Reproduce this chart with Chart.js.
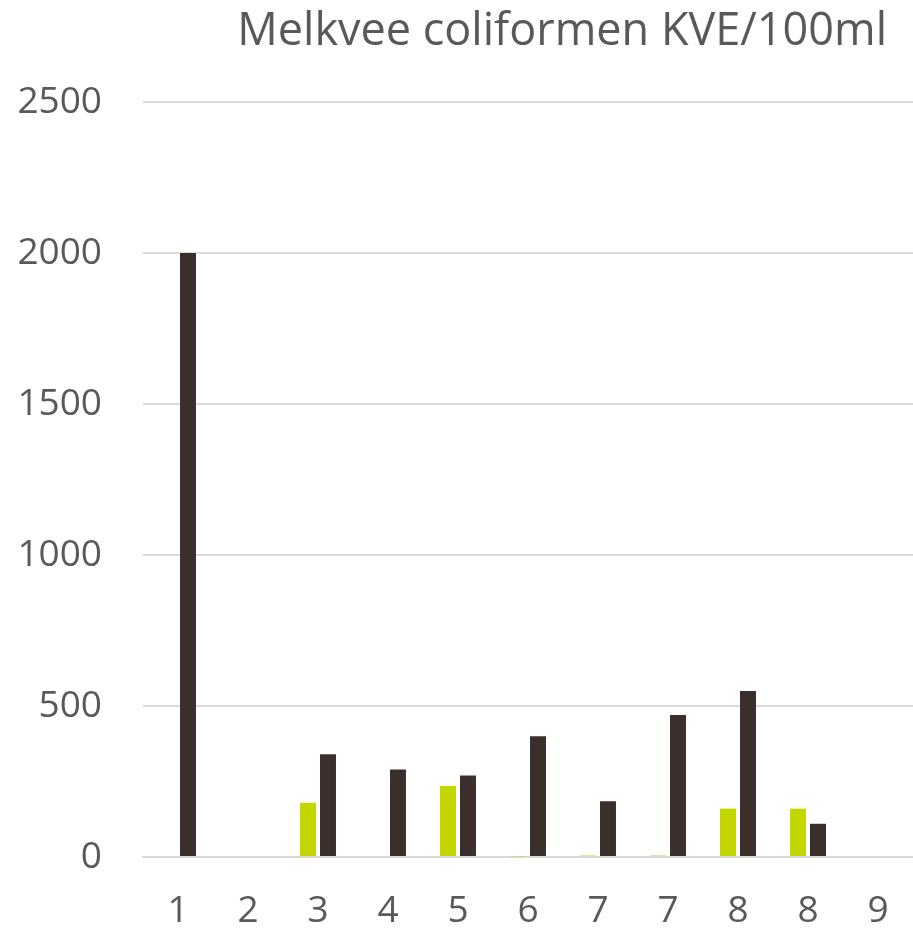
<!DOCTYPE html>
<html><head><meta charset="utf-8">
<script src="https://cdn.jsdelivr.net/npm/chart.js@4/dist/chart.umd.min.js"></script>
<style>html,body{margin:0;padding:0;background:#fff}#wrap{width:913px;height:929px}</style>
</head><body><div id="wrap"><canvas id="c" width="913" height="929"></canvas></div>
<script>
const chartTitle = "Melkvee coliformen KVE/100ml";
const categories = ["1","2","3","4","5","6","7","7","8","8","9"];
const greenValues = [0, 0, 180, 0, 235, 2, 5, 5, 160, 160, 0];
const darkValues = [2000, 0, 340, 290, 270, 400, 185, 470, 550, 110, 0];
const yTicks = [0, 500, 1000, 1500, 2000, 2500];

const FONT = "'Open Sans', sans-serif";
const titlePlugin = {
  id: 'customTitle',
  afterDraw(chart) {
    const ctx = chart.ctx;
    ctx.save();
    ctx.font = "45px " + FONT;
    ctx.fillStyle = "#595959";
    ctx.textAlign = "right";
    ctx.textBaseline = "middle";
    ctx.fillText(chartTitle, 887, 32);
    ctx.restore();
  }
};

new Chart(document.getElementById('c'), {
  type: 'bar',
  data: {
    labels: categories,
    datasets: [
      { data: greenValues, backgroundColor: '#c4d600', barPercentage: 0.8, categoryPercentage: 0.571 },
      { data: darkValues, backgroundColor: '#3a2f2b', barPercentage: 0.8, categoryPercentage: 0.571 }
    ]
  },
  options: {
    responsive: false,
    animation: false,
    devicePixelRatio: 1,
    layout: { padding: { top: 102, left: 0, right: 0, bottom: 0 } },
    plugins: { legend: { display: false }, tooltip: { enabled: false }, title: { display: false } },
    scales: {
      x: {
        afterFit(axis) { axis.height = 72; axis.paddingLeft = 0; axis.paddingRight = 0; },
        grid: { display: false, drawTicks: false },
        border: { display: true, color: '#d9d9d9', width: 2 },
        ticks: { color: '#595959', font: { family: FONT, size: 37 }, padding: 32, maxRotation: 0, autoSkip: false }
      },
      y: {
        min: 0, max: 2500,
        afterFit(axis) { axis.width = 143; },
        afterBuildTicks(axis) { axis.ticks = yTicks.map(v => ({ value: v })); },
        grid: { color: '#d9d9d9', lineWidth: 2, drawTicks: false },
        border: { display: false },
        ticks: { color: '#595959', font: { family: FONT, size: 37 }, padding: 41, callback: v => String(v) }
      }
    }
  },
  plugins: [titlePlugin]
});
</script></body></html>
